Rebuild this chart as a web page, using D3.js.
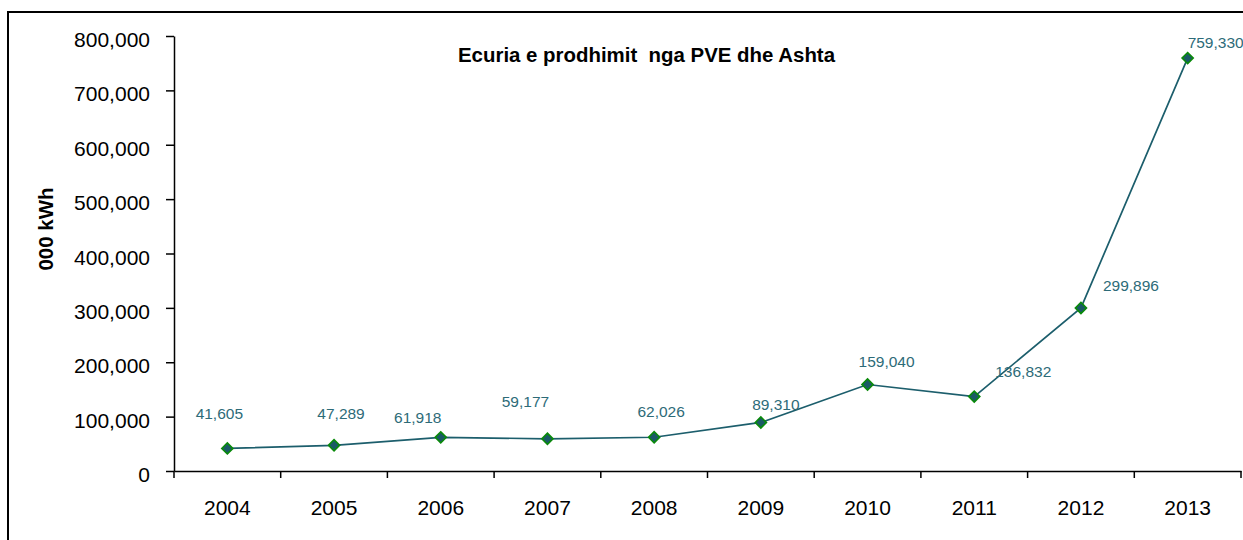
<!DOCTYPE html>
<html>
<head>
<meta charset="utf-8">
<script src="https://cdn.jsdelivr.net/npm/d3@7"></script>
<style>
  html, body { margin: 0; padding: 0; background: #fff; overflow: hidden; }
  svg { display: block; font-family: "Liberation Sans", Arial, sans-serif; }
</style>
</head>
<body>
<svg id="chart" width="1243" height="540"></svg>
<script>
// Annual production of the Ashta hydropower plants (thousand kWh)
const years = ["2004", "2005", "2006", "2007", "2008", "2009", "2010", "2011", "2012", "2013"];
const production = [41605, 47289, 61918, 59177, 62026, 89310, 159040, 136832, 299896, 759330];
const yTicks = [0, 100000, 200000, 300000, 400000, 500000, 600000, 700000, 800000];

// Hand-placed data label offsets relative to each marker (dx, dy to baseline)
const labelOffsets = [
  [-8, -29], [7, -26], [-23, -14], [-22, -32], [7, -20],
  [15, -12], [19, -17.5], [49, -20], [50, -17], [28, -10]
];

const svg = d3.select("#chart");
const plot = { left: 174, right: 1241, top: 36, bottom: 471 };

// Outer chart frame
svg.append("rect")
  .attr("x", 8).attr("y", 12)
  .attr("width", 1400).attr("height", 700)
  .attr("fill", "none").attr("stroke", "#000").attr("stroke-width", 2);

const x = d3.scaleBand().domain(years).range([plot.left, plot.right]).padding(0);
const y = d3.scaleLinear().domain([0, 800000]).range([plot.bottom, plot.top]);

// Y axis
const yAxis = svg.append("g")
  .attr("transform", `translate(${plot.left},0)`)
  .call(d3.axisLeft(y).tickValues(yTicks).tickFormat(d3.format(","))
    .tickSize(8).tickSizeOuter(0).tickPadding(16));
yAxis.select(".domain").attr("stroke", "#000").attr("stroke-width", 1.5);
yAxis.selectAll(".tick line").attr("stroke", "#000").attr("stroke-width", 1.5);
yAxis.selectAll(".tick text")
  .attr("font-size", 21).attr("fill", "#000").attr("dy", "0.5em");

// X axis: labels centred on categories, ticks on category boundaries
const xAxis = svg.append("g")
  .attr("transform", `translate(0,${plot.bottom})`)
  .call(d3.axisBottom(x).tickSize(0).tickSizeOuter(0).tickPadding(29));
xAxis.select(".domain").attr("stroke", "#000").attr("stroke-width", 1.5);
xAxis.selectAll(".tick text").attr("font-size", 21).attr("fill", "#000");
const boundaries = years.map(d => x(d)).concat([x(years[years.length - 1]) + x.bandwidth()]);
xAxis.selectAll(".bound")
  .data(boundaries)
  .enter().append("line")
  .attr("class", "bound")
  .attr("x1", d => d).attr("x2", d => d)
  .attr("y1", 0).attr("y2", 7)
  .attr("stroke", "#000").attr("stroke-width", 1.5);

// Y axis title
svg.append("text")
  .attr("transform", `translate(53,229) rotate(-90)`)
  .attr("text-anchor", "middle")
  .attr("font-size", 20.5).attr("font-weight", "bold")
  .text("000 kWh");

// Chart title
svg.append("text")
  .attr("x", 458).attr("y", 62)
  .attr("font-size", 19.5).attr("font-weight", "bold")
  .attr("textLength", 377).attr("lengthAdjust", "spacingAndGlyphs")
  .style("white-space", "pre")
  .text("Ecuria e prodhimit  nga PVE dhe Ashta");

const cx = d => x(d) + x.bandwidth() / 2;

// Production line
const line = d3.line()
  .x((d, i) => cx(years[i]))
  .y(d => y(d));
svg.append("path")
  .datum(production)
  .attr("d", line)
  .attr("fill", "none")
  .attr("stroke", "#1c5e6c")
  .attr("stroke-width", 1.7);

// Diamond markers
svg.selectAll(".marker")
  .data(production)
  .enter().append("path")
  .attr("class", "marker")
  .attr("d", d3.symbol().type(d3.symbolSquare).size(62))
  .attr("transform", (d, i) => `translate(${cx(years[i])},${y(d)}) rotate(45)`)
  .attr("fill", "#1a5a66")
  .attr("stroke", "#0a8a0a")
  .attr("stroke-width", 1.6);

// Value labels
svg.selectAll(".vlabel")
  .data(production)
  .enter().append("text")
  .attr("class", "vlabel")
  .attr("x", (d, i) => cx(years[i]) + labelOffsets[i][0])
  .attr("y", (d, i) => y(d) + labelOffsets[i][1])
  .attr("text-anchor", "middle")
  .attr("font-size", 15.5)
  .attr("fill", "#2d6b78")
  .text(d => d3.format(",")(d));
</script>
</body>
</html>
